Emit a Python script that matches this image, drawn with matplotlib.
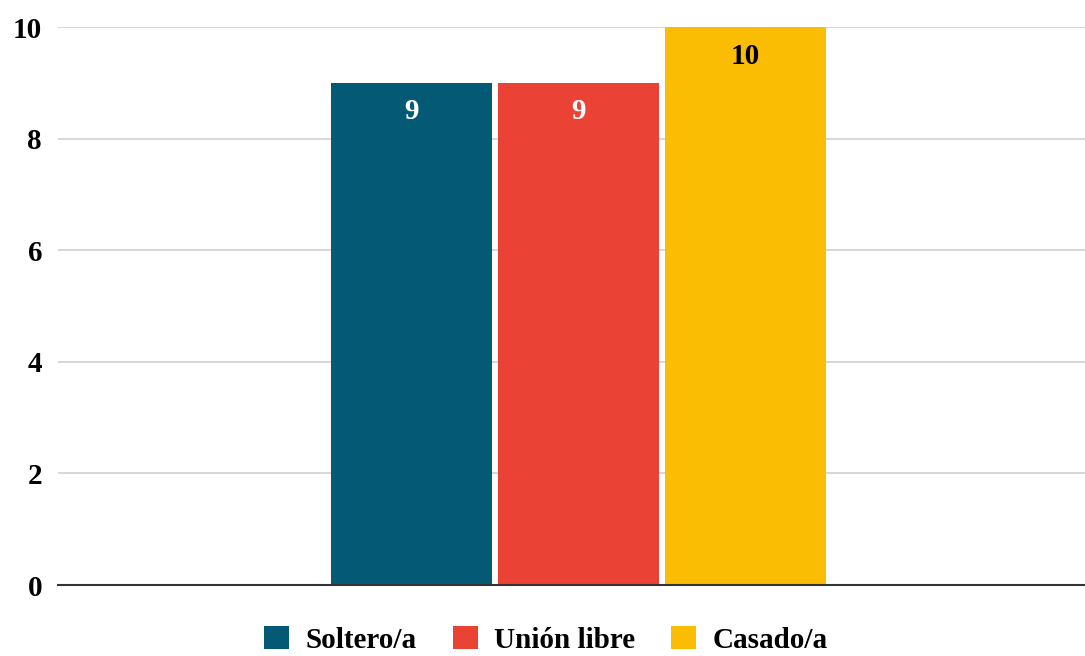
import matplotlib.pyplot as plt
from matplotlib.patches import Patch

categories = ['Soltero/a', 'Unión libre', 'Casado/a']
values = [9, 9, 10]
colors = ['#045a74', '#ea4335', '#fbbc04']
label_colors = ['white', 'white', 'black']
yticks = [0, 2, 4, 6, 8, 10]

plt.rcParams['font.family'] = ['Liberation Serif', 'DejaVu Serif']
plt.rcParams['font.weight'] = 'bold'

fig = plt.figure(figsize=(10.85, 6.56), dpi=100)
ax = fig.add_axes([0.0535, 0.1082, 0.9465, 0.8506])

pos = [-1, 0, 1]
bars = ax.bar(pos, values, width=0.964, color=colors, zorder=3)
for b, v, c in zip(bars, values, label_colors):
    ax.text(b.get_x() + b.get_width() / 2, v - 0.52, str(v), ha='center', va='center',
            color=c, fontsize=21, fontweight='bold', zorder=4)

ax.set_xlim(-3.117, 3.033)
ax.set_ylim(0, 10)
ax.set_yticks(yticks)
ax.set_xticks([])
ax.tick_params(axis='y', length=0, labelsize=21, pad=11.5)
for lab in ax.get_yticklabels():
    lab.set_fontweight('bold')
ax.grid(axis='y', color='#cfcfcf', linewidth=1.2, zorder=0)
for s in ['top', 'right', 'left']:
    ax.spines[s].set_visible(False)
ax.spines['bottom'].set_color('#333333')
ax.spines['bottom'].set_linewidth(1.5)
ax.spines['bottom'].set_zorder(5)

handles = [Patch(facecolor=c, label=n) for c, n in zip(colors, categories)]
fig.legend(handles=handles, loc='center', bbox_to_anchor=(0.503, 0.025), ncol=3,
           frameon=False, prop={'size': 21, 'weight': 'bold'},
           handlelength=0.86, handleheight=0.86, handletextpad=0.55, columnspacing=1.25)

fig.savefig('out.png', dpi=100)
